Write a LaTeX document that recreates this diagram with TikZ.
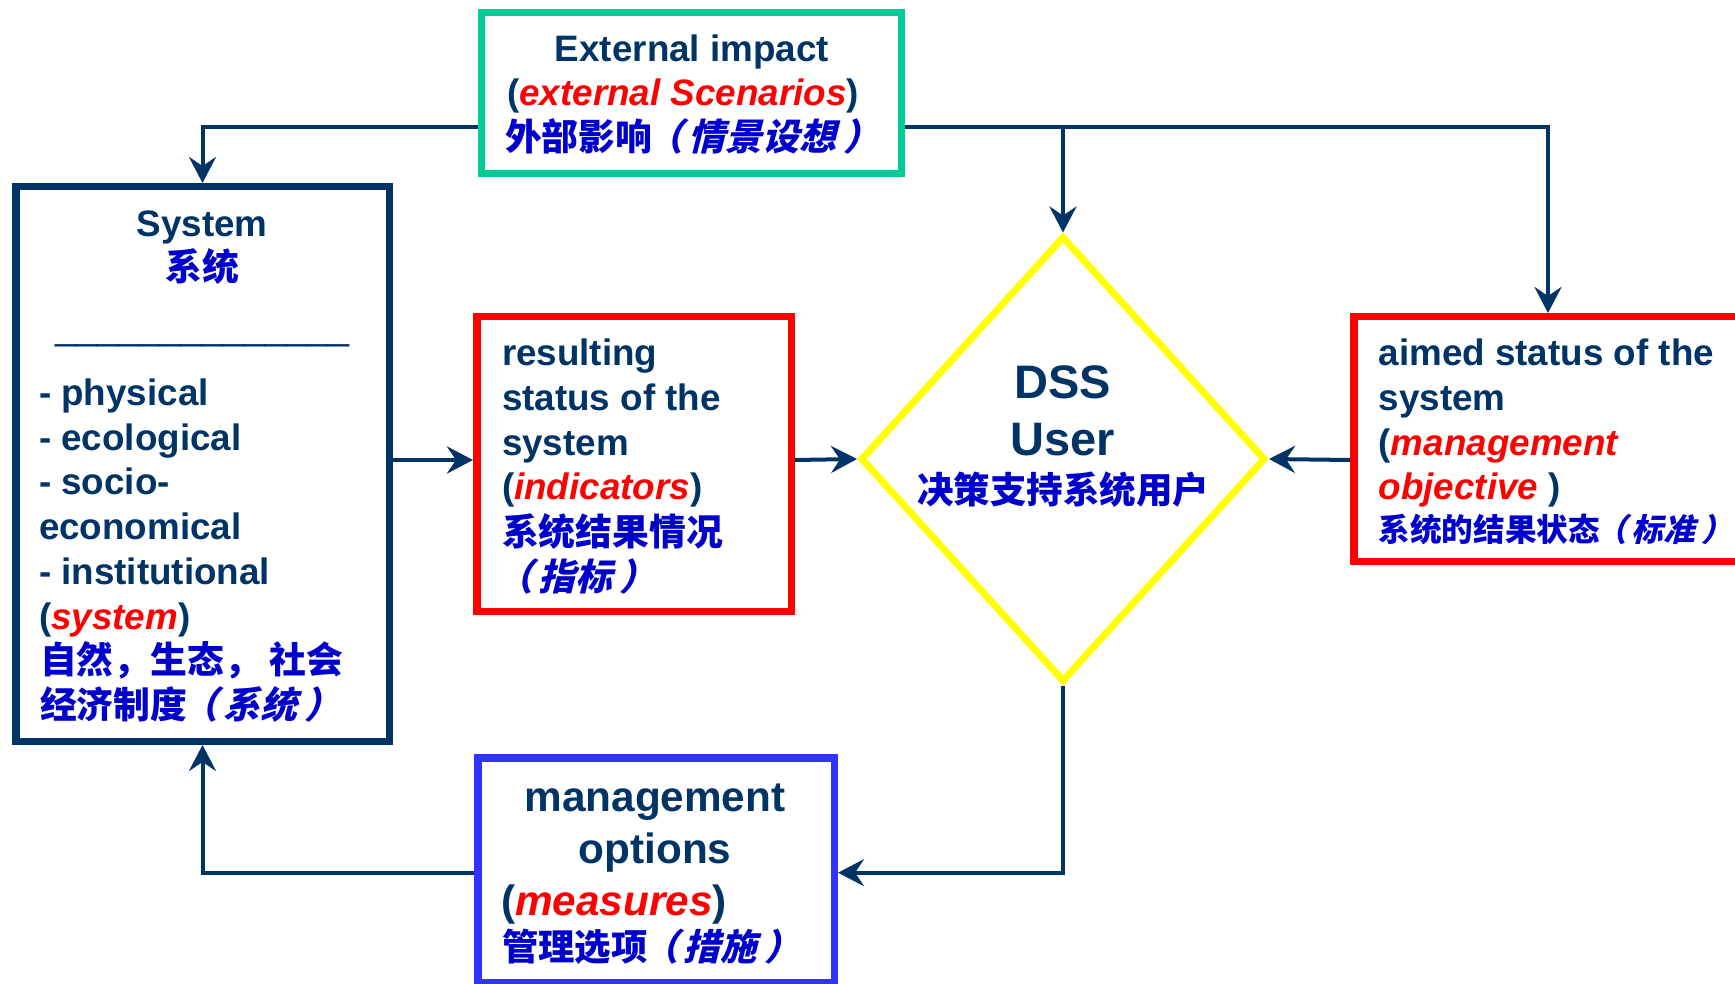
\documentclass[tikz,border=0pt]{standalone}
\usepackage{fontspec}
\setmainfont{Liberation Sans}
\newfontfamily\cjk{Noto Sans CJK SC Bold}[Kerning=Off]
\newfontfamily\cjksl{Noto Sans CJK SC Bold}[FakeSlant=0.25,Kerning=Off]
\usetikzlibrary{arrows.meta,shapes.geometric}
\definecolor{navy}{HTML}{003366}
\definecolor{cjkblue}{HTML}{0000CC}
\definecolor{extgreen}{HTML}{00CC99}
\definecolor{boxblue}{HTML}{3333FF}
\definecolor{dssyellow}{HTML}{FFFF00}
\newcommand{\redit}[1]{\textcolor{red}{\itshape #1}}
\newcommand{\cjkup}[1]{{\cjk\color{cjkblue}#1}}
\newcommand{\cjkit}[1]{{\cjksl\color{cjkblue}#1}}
\newcommand{\myLp}{\kern-0.15em（\kern0.15em}
\newcommand{\myRp}{\kern0.2em）\kern-0.2em}
\tikzset{
  boxnode/.style={draw, rectangle, line width=7.5pt, fill=white, inner sep=0pt},
  txt/.style={inner sep=0pt, outer sep=0pt, text=navy, font=\bfseries\fontsize{36.8pt}{44.7pt}\selectfont},
  bigtxt/.style={txt, font=\bfseries\fontsize{42.3pt}{50pt}\selectfont},
  dsstxt/.style={txt, font=\bfseries\fontsize{47pt}{55pt}\selectfont},
  conn/.style={draw=navy, line width=4pt, -{Stealth[length=26pt,width=27pt,inset=9pt]}}
}
\begin{document}
\begin{tikzpicture}[x=1pt,y=-1pt]
\fill[white] (0,0) rectangle (1735,984);
\useasboundingbox (0,0) rectangle (1735,984);
\clip (0,0) rectangle (1735,984);

% boxes
\node[boxnode, draw=extgreen, line width=7pt, minimum width=420pt, minimum height=161pt] (ext) at (691.5,93) {};
\node[boxnode, draw=navy, minimum width=373.5pt, minimum height=554.5pt] (sys) at (202.5,464) {};
\node[boxnode, draw=red, minimum width=314.5pt, minimum height=294.5pt] (res) at (634,464) {};
\node[boxnode, draw=red, minimum width=388.5pt, minimum height=244.5pt] (aim) at (1548,439) {};
\node[boxnode, draw=boxblue, minimum width=356.5pt, minimum height=224.5pt] (mgmt) at (656,870) {};
\node[draw=dssyellow, shape=diamond, line width=7pt, fill=white, inner sep=0pt, minimum width=405pt, minimum height=446pt] (dss) at (1063,459) {};

% connectors
\coordinate (tl) at (202.5,127);
\coordinate (ml) at (0,460);
\coordinate (bl) at (0,872.7);
\coordinate (jn) at (1063,127);
\draw[conn] (ext.west |- tl) -| (sys.north);
\draw[conn] (ext.east |- tl) -| (aim.north);
\draw[conn] (jn) -- (dss.north);
\draw[conn] (sys.east |- ml) -- (res.west |- ml);
\draw[conn] (res.east |- ml) -- (dss.west);
\draw[conn] (aim.west |- ml) -- (dss.east);
\draw[conn] (dss.south) |- (mgmt.east |- bl);
\draw[conn] (mgmt.west |- bl) -| (sys.south);

% external impact
\node[txt, anchor=base] (e1) at (692,61.7) {External impact};
\node[txt, anchor=base] (e2) at (683,106) {(\redit{external Scenarios})};
\node[txt, anchor=base] (e3) at (689,151) {\cjkup{外部影响}\cjkit{\myLp 情景设想\myRp}};

% system
\node[txt, anchor=base] (s1) at (202,237) {System};
\node[txt, anchor=base] (s2) at (202,281) {\cjkup{系统}};
\node[txt, anchor=base west, font=\mdseries\fontsize{37.8pt}{44pt}\selectfont] (s3) at (55,340) {\textunderscore\textunderscore\textunderscore\textunderscore\textunderscore\textunderscore\textunderscore\textunderscore\textunderscore\textunderscore\textunderscore\textunderscore\textunderscore\textunderscore};
\node[txt, anchor=base west] (s4) at (39,405.5) {- physical};
\node[txt, anchor=base west] (s5) at (39,450.2) {- ecological};
\node[txt, anchor=base west] (s6) at (39,494.9) {- socio-};
\node[txt, anchor=base west] (s7) at (39,539.6) {economical};
\node[txt, anchor=base west] (s8) at (39,584.3) {- institutional};
\node[txt, anchor=base west] (s9) at (39,629) {(\redit{system})};
\node[txt, anchor=base west] (s10) at (40,673.7) {\cjkup{自然，生态， 社会}};
\node[txt, anchor=base west] (s11) at (40,718.4) {\cjkup{经济制度}\cjkit{\myLp 系统\myRp}};

% resulting status
\node[txt, anchor=base west] (r1) at (502,365) {resulting};
\node[txt, anchor=base west] (r2) at (502,410) {status of the};
\node[txt, anchor=base west] (r3) at (502,455) {system};
\node[txt, anchor=base west] (r4) at (502,499.5) {(\redit{indicators})};
\node[txt, anchor=base west] (r5) at (502,545) {\cjkup{系统结果情况}};
\node[txt, anchor=base west] (r6) at (502,590) {\cjkit{\myLp 指标\myRp}};

% DSS user
\node[dsstxt, anchor=base] (d1) at (1063,398) {DSS};
\node[dsstxt, anchor=base] (d2) at (1063,455) {User};
\node[txt, anchor=base, font=\bfseries\fontsize{36.5pt}{44pt}\selectfont] (d3) at (1063,503) {\cjkup{决策支持系统用户}};

% aimed status
\node[txt, anchor=base west] (a1) at (1378.7,365) {aimed status of the};
\node[txt, anchor=base west] (a2) at (1378.7,410) {system};
\node[txt, anchor=base west] (a3) at (1378.7,455) {(\redit{management}};
\node[txt, anchor=base west] (a4) at (1378.7,499.3) {\redit{objective} )};
\node[txt, anchor=base west, font=\bfseries\fontsize{31.6pt}{38pt}\selectfont] (a5) at (1378.7,541.5) {\cjkup{系统的结果状态}\cjkit{\myLp 标准\myRp}};

% management options
\node[bigtxt, anchor=base] (m1) at (655,811.7) {management};
\node[bigtxt, anchor=base] (m2) at (655,863) {options};
\node[bigtxt, anchor=base west] (m3) at (501,915) {(\redit{measures})};
\node[txt, anchor=base west, font=\bfseries\fontsize{36.4pt}{44pt}\selectfont] (m4) at (502,960.7) {\cjkup{管理选项}\cjkit{\myLp 措施\myRp}};
\end{tikzpicture}
\end{document}
